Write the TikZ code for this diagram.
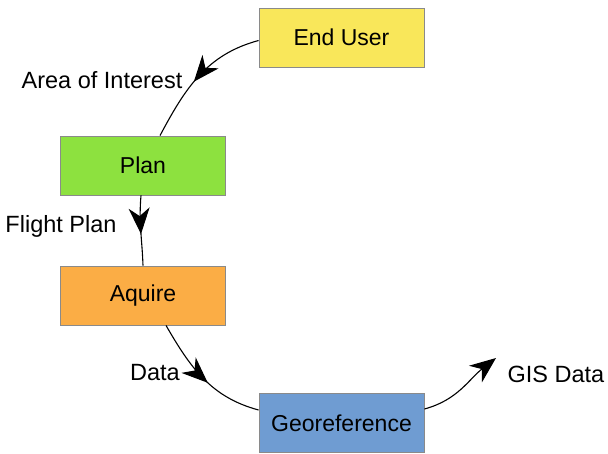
\documentclass[tikz,border=0pt]{standalone}
\usepackage{fontspec}
\setmainfont{Liberation Sans}
\usetikzlibrary{arrows.meta,decorations.markings}
\definecolor{cyellow}{HTML}{F9E75A}
\definecolor{cgreen}{HTML}{8DE13F}
\definecolor{corange}{HTML}{FBAD45}
\definecolor{cblue}{HTML}{6F9CD2}
\definecolor{cborder}{HTML}{8A8A8A}
\begin{document}
\begin{tikzpicture}[x=1pt,y=-1pt,
  box/.style={draw=cborder,line width=0.8pt,minimum width=165pt,minimum height=59pt,inner sep=0pt,font=\fontsize{23}{27}\selectfont},
  lbl/.style={font=\fontsize{23.5}{27}\selectfont,inner sep=0pt},
  conn/.style={line width=1.1pt},
  midarrow/.style={postaction={decorate},decoration={markings,mark=at position 0.55 with {\arrow{Stealth[length=26pt,width=21pt,inset=8pt]}}}},
  endarrow/.style={-{Stealth[length=26pt,width=21pt,inset=8pt]}}]
\useasboundingbox (0,0) rectangle (608,453);
\node[box,fill=cyellow] (eu) at (341.5,37.5) {End User};
\node[box,fill=cgreen] (plan) at (143,165.5) {Plan};
\node[box,fill=corange] (aq) at (143,295.5) {Aquire};
\node[box,fill=cblue] (geo) at (341.5,423) {Georeference};
\coordinate (gis) at (496,358);
\draw[conn,midarrow] ([yshift=-3pt]eu.west) to[out=195,in=62] ([xshift=17pt]plan.north);
\draw[conn,midarrow] ([xshift=-2pt]plan.south) to[out=-95,in=92] (aq.north);
\draw[conn,midarrow] ([xshift=23pt]aq.south) to[out=-60,in=165] ([yshift=13pt]geo.west);
\draw[conn,endarrow] ([yshift=14pt]geo.east) to[out=15,in=218] (gis);
\node[lbl] (l1) at (102,80) {Area of Interest};
\node[lbl] (l2) at (61,226) {Flight Plan};
\node[lbl] (l3) at (155,373) {Data};
\node[lbl] (l4) at (556,374) {GIS Data};
\end{tikzpicture}
\end{document}
